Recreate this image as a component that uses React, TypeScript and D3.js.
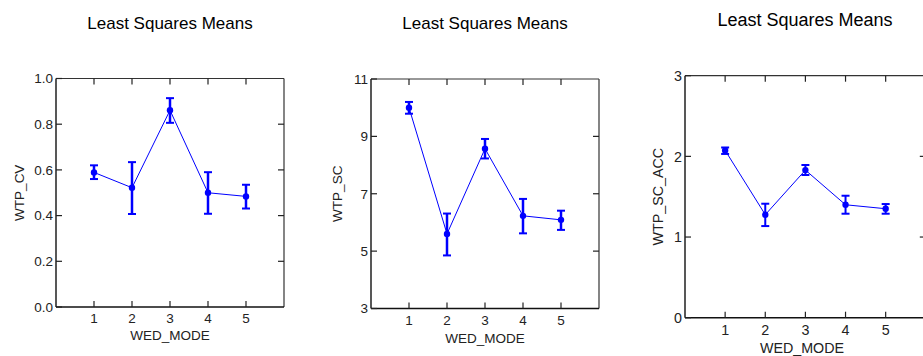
import { useEffect, useRef } from 'react'
import * as d3 from 'd3'

// x categories (WED_MODE)
const modes = [1, 2, 3, 4, 5]

// WTP_CV least squares means with error bar bounds
const wtpCvMean = [0.589, 0.522, 0.861, 0.5, 0.484]
const wtpCvLower = [0.56, 0.407, 0.806, 0.408, 0.431]
const wtpCvUpper = [0.62, 0.634, 0.914, 0.59, 0.535]

// WTP_SC
const wtpScMean = [10.0, 5.6, 8.57, 6.23, 6.09]
const wtpScLower = [9.79, 4.85, 8.23, 5.62, 5.74]
const wtpScUpper = [10.2, 6.31, 8.91, 6.82, 6.41]

// WTP_SC_ACC
const wtpAccMean = [2.074, 1.277, 1.83, 1.4, 1.351]
const wtpAccLower = [2.03, 1.136, 1.769, 1.289, 1.289]
const wtpAccUpper = [2.11, 1.413, 1.893, 1.512, 1.409]

// tick labels
const cvTicks = [0, 0.2, 0.4, 0.6, 0.8, 1.0]
const scTicks = [3, 5, 7, 9, 11]
const accTicks = [0, 1, 2, 3]

const titleText = 'Least Squares Means'
const xLabel = 'WED_MODE'
const FONT = "Arial, 'Liberation Sans', sans-serif"
const BLUE = '#0000ff'

interface Panel {
  left: number
  right: number
  top: number
  bottom: number
  yDomain: [number, number]
  yTicks: number[]
  fmt: (v: number) => string
  yLabel: string
  yLabelX: number
  titleX: number
  titleY: number
  titleSize: number
  fontSize: number
  xTickY: number
  xLabelY: number
  barWidth: number
  mean: number[]
  lower: number[]
  upper: number[]
}

const panels: Panel[] = [
  {
    left: 56, right: 284, top: 78.5, bottom: 307,
    yDomain: [0, 1], yTicks: cvTicks, fmt: d3.format('.1f'),
    yLabel: 'WTP_CV', yLabelX: 19,
    titleX: 170, titleY: 29, titleSize: 17, fontSize: 13.5,
    xTickY: 323, xLabelY: 340, barWidth: 2.5,
    mean: wtpCvMean, lower: wtpCvLower, upper: wtpCvUpper
  },
  {
    left: 371, right: 599, top: 79, bottom: 308.5,
    yDomain: [3, 11], yTicks: scTicks, fmt: d3.format('d'),
    yLabel: 'WTP_SC', yLabelX: 337.5,
    titleX: 485, titleY: 29, titleSize: 17, fontSize: 13.5,
    xTickY: 325, xLabelY: 342.5, barWidth: 2.5,
    mean: wtpScMean, lower: wtpScLower, upper: wtpScUpper
  },
  {
    left: 685, right: 925.8, top: 75.7, bottom: 317.7,
    yDomain: [0, 3], yTicks: accTicks, fmt: d3.format('d'),
    yLabel: 'WTP_SC_ACC', yLabelX: 657.5,
    titleX: 805, titleY: 26, titleSize: 18, fontSize: 14.3,
    xTickY: 335, xLabelY: 353, barWidth: 2,
    mean: wtpAccMean, lower: wtpAccLower, upper: wtpAccUpper
  }
]

export default function App() {
  const svgRef = useRef<SVGSVGElement>(null)

  useEffect(() => {
    if (!svgRef.current) return
    const svg = d3.select(svgRef.current)
    svg.selectAll('*').remove()

    panels.forEach(p => {
      const x = d3.scaleLinear().domain([0, 6]).range([p.left, p.right])
      const y = d3.scaleLinear().domain(p.yDomain).range([p.bottom, p.top])
      const g = svg.append('g')
      const tickLen = 6

      // title
      g.append('text')
        .attr('x', p.titleX)
        .attr('y', p.titleY)
        .attr('text-anchor', 'middle')
        .style('font-size', `${p.titleSize}px`)
        .style('font-family', FONT)
        .text(titleText)

      // frame: top / right lighter, left / bottom axis lines
      g.append('line')
        .attr('x1', p.left).attr('x2', p.right)
        .attr('y1', p.top).attr('y2', p.top)
        .attr('stroke', '#333').attr('stroke-width', 1.2)
      g.append('line')
        .attr('x1', p.right).attr('x2', p.right)
        .attr('y1', p.top).attr('y2', p.bottom)
        .attr('stroke', '#333').attr('stroke-width', 1.2)
      g.append('line')
        .attr('x1', p.left).attr('x2', p.right)
        .attr('y1', p.bottom).attr('y2', p.bottom)
        .attr('stroke', '#111').attr('stroke-width', 1.4)
      g.append('line')
        .attr('x1', p.left).attr('x2', p.left)
        .attr('y1', p.top).attr('y2', p.bottom)
        .attr('stroke', '#111').attr('stroke-width', 1.4)

      // x ticks (bottom + top, inward)
      modes.forEach(m => {
        g.append('line')
          .attr('x1', x(m)).attr('x2', x(m))
          .attr('y1', p.bottom).attr('y2', p.bottom - tickLen)
          .attr('stroke', '#222').attr('stroke-width', 1.2)
        g.append('line')
          .attr('x1', x(m)).attr('x2', x(m))
          .attr('y1', p.top).attr('y2', p.top + tickLen)
          .attr('stroke', '#222').attr('stroke-width', 1.2)
        g.append('text')
          .attr('x', x(m))
          .attr('y', p.xTickY)
          .attr('text-anchor', 'middle')
          .style('font-size', `${p.fontSize}px`)
          .style('font-family', FONT)
          .style('fill', '#222')
          .text(String(m))
      })

      // y ticks (left + right, inward)
      p.yTicks.forEach(t => {
        g.append('line')
          .attr('x1', p.left).attr('x2', p.left + tickLen)
          .attr('y1', y(t)).attr('y2', y(t))
          .attr('stroke', '#222').attr('stroke-width', 1.2)
        if (t !== p.yDomain[0] && t !== p.yDomain[1]) {
          g.append('line')
            .attr('x1', p.right).attr('x2', p.right - tickLen)
            .attr('y1', y(t)).attr('y2', y(t))
            .attr('stroke', '#222').attr('stroke-width', 1.2)
        }
        g.append('text')
          .attr('x', p.left - 3)
          .attr('y', y(t))
          .attr('dy', '0.36em')
          .attr('text-anchor', 'end')
          .style('font-size', `${p.fontSize}px`)
          .style('font-family', FONT)
          .style('fill', '#222')
          .text(p.fmt(t))
      })

      // axis labels
      g.append('text')
        .attr('x', (p.left + Math.min(p.right, 923)) / 2 + (p === panels[2] ? -2 : 0))
        .attr('y', p.xLabelY)
        .attr('text-anchor', 'middle')
        .style('font-size', `${p.fontSize}px`)
        .style('font-family', FONT)
        .style('fill', '#222')
        .text(xLabel)

      const cy = (p.top + p.bottom) / 2
      g.append('text')
        .attr('transform', `translate(${p.yLabelX},${cy}) rotate(-90)`)
        .attr('text-anchor', 'middle')
        .attr('dy', '0.36em')
        .style('font-size', `${p.fontSize}px`)
        .style('font-family', FONT)
        .style('fill', '#222')
        .text(p.yLabel)

      // connecting line
      const line = d3.line<number>()
        .x((_, i) => x(modes[i]))
        .y(d => y(d))
      g.append('path')
        .datum(p.mean)
        .attr('d', line)
        .attr('fill', 'none')
        .attr('stroke', BLUE)
        .attr('stroke-width', 1)

      // error bars
      modes.forEach((m, i) => {
        const cx = x(m)
        g.append('line')
          .attr('x1', cx).attr('x2', cx)
          .attr('y1', y(p.lower[i])).attr('y2', y(p.upper[i]))
          .attr('stroke', BLUE).attr('stroke-width', p.barWidth)
        ;[p.lower[i], p.upper[i]].forEach(v => {
          g.append('line')
            .attr('x1', cx - 4).attr('x2', cx + 4)
            .attr('y1', y(v)).attr('y2', y(v))
            .attr('stroke', BLUE).attr('stroke-width', 2)
        })
        g.append('circle')
          .attr('cx', cx)
          .attr('cy', y(p.mean[i]))
          .attr('r', 3.2)
          .attr('fill', BLUE)
      })
    })
  }, [])

  return (
    <svg
      ref={svgRef}
      width={923}
      height={356}
      style={{ position: 'absolute', left: 0, top: 0, background: '#fff' }}
    />
  )
}
